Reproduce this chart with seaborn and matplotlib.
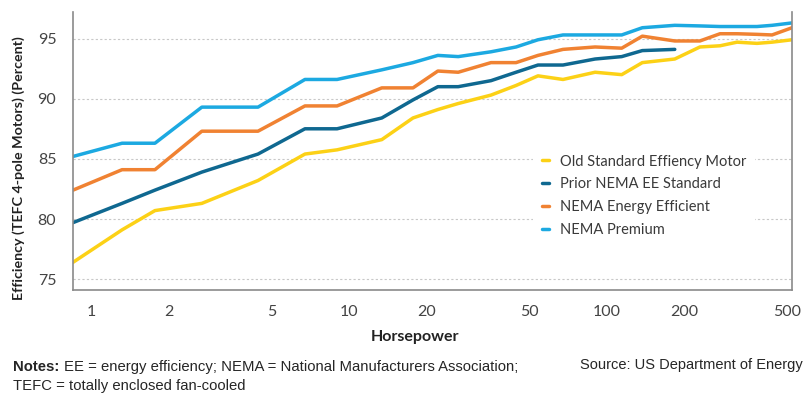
import numpy as np
import pandas as pd
import matplotlib
matplotlib.use("Agg")
import matplotlib.pyplot as plt
import seaborn as sns

# horsepower positions
horsepower = [0.852, 1.32, 1.77, 2.69, 4.44, 6.75, 8.99, 13.4, 17.7, 22.1, 26.5,
              35.5, 44.4, 54.0, 67.5, 89.9, 114, 137, 183, 229, 274, 319, 381, 436, 521]

old_standard = [76.4, 79.1, 80.7, 81.3, 83.2, 85.4, 85.75, 86.6, 88.4, 89.1, 89.6,
                90.3, 91.1, 91.9, 91.6, 92.2, 92.0, 93.0, 93.3, 94.3, 94.4, 94.7, 94.6, 94.7, 94.9]
prior_nema_ee = [79.7, 81.3, 82.4, 83.9, 85.4, 87.5, 87.5, 88.4, 89.9, 91.0, 91.0,
                 91.5, 92.2, 92.8, 92.8, 93.3, 93.5, 94.0, 94.1]
nema_energy_eff = [82.4, 84.1, 84.1, 87.3, 87.3, 89.4, 89.4, 90.9, 90.9, 92.3, 92.2,
                   93.0, 93.0, 93.6, 94.1, 94.3, 94.2, 95.2, 94.8, 94.8, 95.4, 95.4, 95.35, 95.3, 95.9]
nema_premium = [85.2, 86.3, 86.3, 89.3, 89.3, 91.6, 91.6, 92.4, 93.0, 93.6, 93.5,
                93.9, 94.3, 94.9, 95.3, 95.3, 95.3, 95.9, 96.1, 96.05, 96.0, 96.0, 96.0, 96.1, 96.3]

series_names = ["Old Standard Effiency Motor", "Prior NEMA EE Standard",
                "NEMA Energy Efficient", "NEMA Premium"]
series_values = [old_standard, prior_nema_ee, nema_energy_eff, nema_premium]
colors = ["#FCD116", "#0F6890", "#F08232", "#1CA9E1"]

x_ticks = [1, 2, 5, 10, 20, 50, 100, 200, 500]
y_ticks = [75, 80, 85, 90, 95]

# long-form table for seaborn
frames = []
for name, vals in zip(series_names, series_values):
    frames.append(pd.DataFrame({"hp": horsepower[:len(vals)], "eff": vals, "series": name}))
df = pd.concat(frames, ignore_index=True)

sns.set_style("white")
plt.rcParams["font.family"] = ["Lato", "DejaVu Sans"]

fig = plt.figure(figsize=(8.12, 4.03), dpi=100)
ax = fig.add_axes([0.0899, 0.2804, 0.8855, 0.6896])

sns.lineplot(data=df, x="hp", y="eff", hue="series", hue_order=series_names,
             palette=colors, linewidth=2.5, sort=False, ax=ax, legend=False)

ax.set_xscale("log")
ax.set_xlim(0.852, 521)
ax.set_ylim(74.1, 97.2)
ax.set_xticks(x_ticks)
ax.set_xticklabels([str(t) for t in x_ticks])
ax.xaxis.set_minor_locator(matplotlib.ticker.NullLocator())
ax.set_yticks(y_ticks)
ax.set_yticklabels([str(t) for t in y_ticks])

ax.yaxis.grid(True, color="#c8c8c8", linestyle=(0, (2, 2)), linewidth=0.8)
ax.xaxis.grid(False)
ax.set_axisbelow(True)

for side in ["left", "bottom", "right"]:
    ax.spines[side].set_color("#8a8a8a")
    ax.spines[side].set_linewidth(1.2)
ax.spines["top"].set_visible(False)

ax.tick_params(axis="x", which="major", direction="out", length=6, width=1.2,
               color="#8a8a8a", labelsize=11.5, labelcolor="#444444", pad=5)
ax.tick_params(axis="y", length=0, labelsize=11.5, labelcolor="#444444", pad=12)

ax.set_xlabel("Horsepower", fontsize=11.5, fontweight="bold", color="#222222")
ax.xaxis.set_label_coords(0.475, -0.144)
ax.set_ylabel("Efficiency (TEFC 4-pole Motors) (Percent)", fontsize=10.3,
              fontweight="bold", color="#222222")
ax.yaxis.set_label_coords(-0.067, 0.44)

handles = [matplotlib.lines.Line2D([], [], color=c, linewidth=2.5) for c in colors]
leg = ax.legend(handles, series_names, loc="upper left", bbox_to_anchor=(0.63, 0.545),
                frameon=True, handlelength=0.5, handletextpad=0.7, labelspacing=0.6,
                fontsize=10.5, borderpad=0.6)
leg.get_frame().set_facecolor("white")
leg.get_frame().set_edgecolor("none")
leg.get_frame().set_alpha(1)
for t in leg.get_texts():
    t.set_color("#3a3a3a")

note_font = ["Liberation Sans", "DejaVu Sans"]
fig.text(0.016, 0.089, "Notes:", fontsize=10.7, fontweight="bold", family=note_font, va="center")
fig.text(0.079, 0.089, "EE = energy efficiency; NEMA = National Manufacturers Association;",
         fontsize=10.7, family=note_font, va="center")
fig.text(0.016, 0.042, "TEFC = totally enclosed fan-cooled",
         fontsize=10.7, family=note_font, va="center")
fig.text(0.989, 0.094, "Source: US Department of Energy", fontsize=10.5, ha="right",
         family=note_font, va="center")

fig.savefig("out.png", dpi=100)
